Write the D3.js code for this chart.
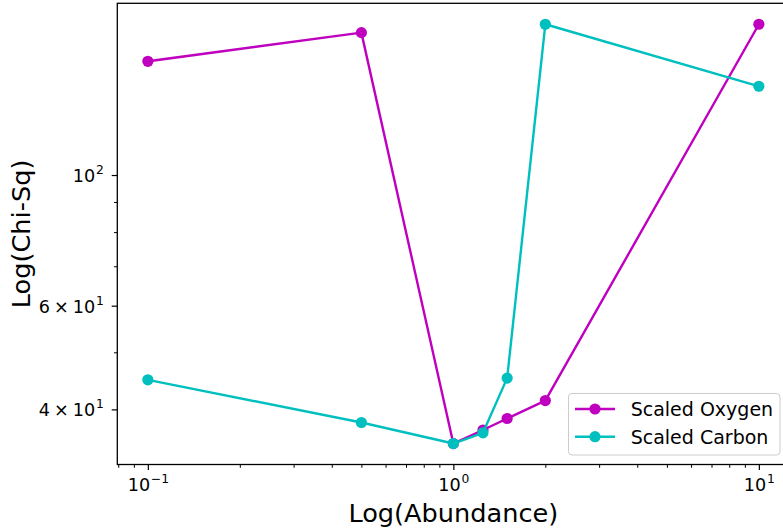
<!DOCTYPE html>
<html>
<head>
<meta charset="utf-8">
<script src="https://cdn.jsdelivr.net/npm/d3@7"></script>
<style>
  html, body { margin: 0; padding: 0; background: #fff; }
  svg { display: block; font-family: "DejaVu Sans", sans-serif; }
  svg text { font-family: "DejaVu Sans", sans-serif; }
</style>
</head>
<body>
<svg id="chart" width="783" height="531"></svg>
<script>
// Abundance grid and chi-square results for each scaled element
const abundance = [0.1, 0.5, 1.0, 1.25, 1.5, 2.0, 10];
const oxygenChiSq = [156.0, 174.5, 35.0, 36.9, 38.6, 41.4, 180.3];
const carbonChiSq = [44.9, 38.0, 35.0, 36.5, 45.2, 180.3, 141.5];
const seriesNames = ["Scaled Oxygen", "Scaled Carbon"];
const seriesColors = ["#bf00bf", "#00bfbf"];

// Labelled ticks: [mantissa or null, base, exponent]
const xTickValues = [0.1, 1, 10];
const xTickLabels = [[null, "10", "\u22121"], [null, "10", "0"], [null, "10", "1"]];
const yTickValues = [40, 60, 100];
const yTickLabels = [["4", "10", "1"], ["6", "10", "1"], [null, "10", "2"]];

const svg = d3.select("#chart");
const plot = { left: 117.3, right: 789.4, top: 3.3, bottom: 464.5 };

// Pad the log extent by 5% on each side
function logPad(ext) {
  const a = Math.log10(ext[0]), b = Math.log10(ext[1]), p = (b - a) * 0.05;
  return [Math.pow(10, a - p), Math.pow(10, b + p)];
}

const x = d3.scaleLog()
  .domain(logPad(d3.extent(abundance)))
  .range([plot.left, plot.right]);
const y = d3.scaleLog()
  .domain(logPad(d3.extent(oxygenChiSq.concat(carbonChiSq))))
  .range([plot.bottom, plot.top]);

// Minor tick positions: every integer multiple within each decade
function decadeTicks(scale) {
  const [d0, d1] = scale.domain();
  const out = [];
  for (let e = Math.floor(Math.log10(d0)); e <= Math.ceil(Math.log10(d1)); e++) {
    for (let m = 1; m <= 9; m++) {
      const v = m * Math.pow(10, e);
      if (v >= d0 && v <= d1) out.push(v);
    }
  }
  return out;
}
const isMajor = v => Math.abs(Math.log10(v) - Math.round(Math.log10(v))) < 1e-9;

const tickFont = 17.6, supFont = 12.3;

// Write "m × 10^e" style label into a text element
function powerLabel(t, parts) {
  const [mant, base, exp] = parts;
  if (mant !== null) {
    t.append("tspan").text(mant);
    t.append("tspan").attr("dx", 4).text("\u00d7");
    t.append("tspan").attr("dx", 4).text(base);
  } else {
    t.append("tspan").text(base);
  }
  t.append("tspan").attr("dx", 0.8).attr("dy", -8).style("font-size", supFont + "px").text(exp);
}

// Clip region for marks
svg.append("defs").append("clipPath").attr("id", "plotClip")
  .append("rect")
  .attr("x", plot.left).attr("y", plot.top)
  .attr("width", plot.right - plot.left).attr("height", plot.bottom - plot.top);

// ---- X axis ----
const xMinor = decadeTicks(x).filter(v => !isMajor(v));
svg.append("g")
  .attr("transform", `translate(0,${plot.bottom})`)
  .call(d3.axisBottom(x).tickValues(xMinor).tickSize(3.3).tickFormat(""))
  .call(g => g.select(".domain").remove())
  .call(g => g.selectAll("line").attr("stroke", "#000").attr("stroke-width", 1));

const xMajorAxis = svg.append("g")
  .attr("transform", `translate(0,${plot.bottom})`)
  .call(d3.axisBottom(x).tickValues(xTickValues).tickSize(5.6).tickFormat(""))
  .call(g => g.select(".domain").remove())
  .call(g => g.selectAll("line").attr("stroke", "#000").attr("stroke-width", 1.2))
  .attr("font-family", null).attr("font-size", null);

xMajorAxis.selectAll(".tick").each(function (d, i) {
  const t = d3.select(this).append("text")
    .attr("x", 0).attr("y", 491 - plot.bottom)
    .attr("fill", "#000").attr("text-anchor", "middle")
    .style("font-size", tickFont + "px");
  powerLabel(t, xTickLabels[i]);
});

// ---- Y axis ----
const yMinor = decadeTicks(y).filter(v => !isMajor(v) && !yTickValues.includes(v));
svg.append("g")
  .attr("transform", `translate(${plot.left},0)`)
  .call(d3.axisLeft(y).tickValues(yMinor).tickSize(3.3).tickFormat(""))
  .call(g => g.select(".domain").remove())
  .call(g => g.selectAll("line").attr("stroke", "#000").attr("stroke-width", 1));

const yMajorAxis = svg.append("g")
  .attr("transform", `translate(${plot.left},0)`)
  .call(d3.axisLeft(y).tickValues(yTickValues).tickSize(5.6).tickFormat(""))
  .call(g => g.select(".domain").remove())
  .call(g => g.selectAll("line").attr("stroke", "#000").attr("stroke-width", 1.2))
  .attr("font-family", null).attr("font-size", null);

yMajorAxis.selectAll(".tick").each(function (d, i) {
  const t = d3.select(this).append("text")
    .attr("x", -13.5).attr("y", 6.4)
    .attr("fill", "#000").attr("text-anchor", "end")
    .style("font-size", tickFont + "px");
  powerLabel(t, yTickLabels[i]);
});

// ---- Series ----
const marks = svg.append("g").attr("clip-path", "url(#plotClip)");
const seriesData = [oxygenChiSq, carbonChiSq];
const line = d3.line().x(d => x(d[0])).y(d => y(d[1]));

seriesData.forEach((vals, si) => {
  const pts = abundance.map((a, i) => [a, vals[i]]);
  marks.append("path")
    .datum(pts)
    .attr("d", line)
    .attr("fill", "none")
    .attr("stroke", seriesColors[si])
    .attr("stroke-width", 2.4)
    .attr("stroke-linejoin", "round")
    .attr("stroke-linecap", "square");
  marks.selectAll(null).data(pts).enter().append("circle")
    .attr("cx", d => x(d[0]))
    .attr("cy", d => y(d[1]))
    .attr("r", 5.6)
    .attr("fill", seriesColors[si]);
});

// ---- Frame ----
svg.append("rect")
  .attr("x", plot.left).attr("y", plot.top)
  .attr("width", plot.right - plot.left).attr("height", plot.bottom - plot.top)
  .attr("fill", "none").attr("stroke", "#000").attr("stroke-width", 1.3);

// ---- Axis titles ----
svg.append("text")
  .attr("x", (plot.left + plot.right) / 2).attr("y", 522)
  .attr("text-anchor", "middle").attr("fill", "#000")
  .style("font-size", "25.6px")
  .text("Log(Abundance)");

svg.append("text")
  .attr("transform", `translate(30,${(plot.top + plot.bottom) / 2}) rotate(-90)`)
  .attr("text-anchor", "middle").attr("fill", "#000")
  .style("font-size", "25.6px")
  .text("Log(Chi-Sq)");

// ---- Legend ----
const legend = svg.append("g");
legend.append("rect")
  .attr("x", 568.5).attr("y", 393.5).attr("width", 211.5).attr("height", 61.5)
  .attr("rx", 3.5)
  .attr("fill", "#fff").attr("fill-opacity", 0.8)
  .attr("stroke", "#cccccc").attr("stroke-width", 1);

seriesNames.forEach((name, i) => {
  const cy = 409 + i * 27.7;
  legend.append("line")
    .attr("x1", 575).attr("x2", 615).attr("y1", cy).attr("y2", cy)
    .attr("stroke", seriesColors[i]).attr("stroke-width", 2.4);
  legend.append("circle")
    .attr("cx", 595).attr("cy", cy).attr("r", 5.6)
    .attr("fill", seriesColors[i]);
  legend.append("text")
    .attr("x", 630.7).attr("y", cy + 6.9)
    .attr("fill", "#000")
    .style("font-size", "19px")
    .text(name);
});
</script>
</body>
</html>
